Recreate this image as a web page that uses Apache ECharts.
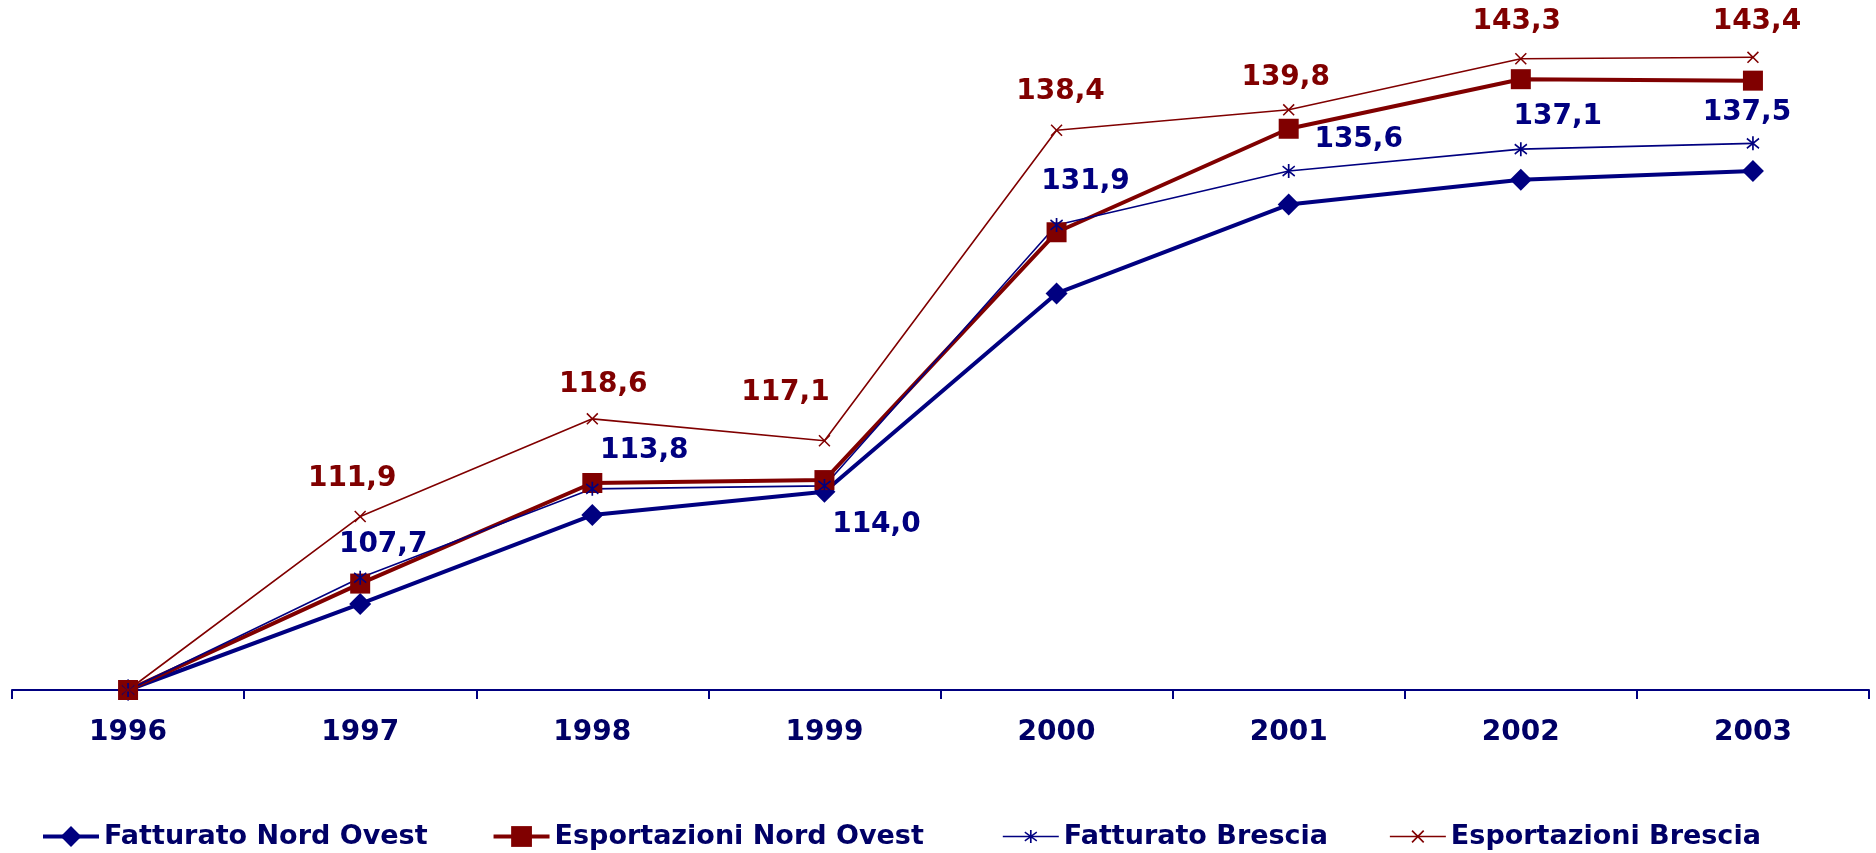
<!DOCTYPE html>
<html>
<head>
<meta charset="utf-8">
<script src="https://cdn.jsdelivr.net/npm/echarts@6/dist/echarts.min.js"></script>
<style>
html,body{margin:0;padding:0;background:#fff;}
#chart{width:1876px;height:853px;}
</style>
</head>
<body>
<div id="chart"></div>
<script>
const categories = ['1996','1997','1998','1999','2000','2001','2002','2003'];
const fatturatoNordOvest = [100, 105.9, 112.0, 113.6, 127.2, 133.3, 135.0, 135.6];
const esportazioniNordOvest = [100, 107.3, 114.2, 114.4, 131.4, 138.5, 141.9, 141.8];
const fatturatoBrescia = [100, 107.7, 113.8, 114.0, 131.9, 135.6, 137.1, 137.5];
const esportazioniBrescia = [100, 111.9, 118.6, 117.1, 138.4, 139.8, 143.3, 143.4];

// label placement (offset from point, px)
const labelOffsetsFatB = [null, [23,-33], [52,-38], [52,39], [29,-43], [70,-31], [37,-32], [-6,-31]];
const labelOffsetsEspB = [null, [-8,-38], [11,-34], [-39,-48], [4,-38], [-3,-32], [-4,-37], [4,-36]];

const NAVY = '#000080';
const RED = '#800000';
const TEXT = '#000066';
const FONT = 'DejaVu Sans';

const xSymbol = 'path://M0 9 L9 0 L100 91 L91 100 Z M91 0 L100 9 L9 100 L0 91 Z';
const starSymbol = 'path://M44 0 L56 0 L56 100 L44 100 Z M4 20 L10 10 L96 80 L90 90 Z M90 10 L96 20 L10 90 L4 80 Z';

function fmt(v){ return v.toFixed(1).replace('.', ','); }

function labelled(values, offsets, color){
  return values.map((v,i) => {
    if (!offsets[i]) return {value: v, label: {show: false}};
    return {value: v, label: {show: true, position: 'inside', offset: offsets[i],
      formatter: () => fmt(v), color: color, fontFamily: FONT, fontWeight: 'bold', fontSize: 28}};
  });
}

const legendText = {color: TEXT, fontFamily: FONT, fontWeight: 'bold', fontSize: 27};

const chart = echarts.init(document.getElementById('chart'), null, {renderer: 'canvas'});
chart.setOption({
  animation: false,
  backgroundColor: '#fff',
  grid: {left: 12, right: 7, top: 34, bottom: 163, containLabel: false, outerBoundsMode: 'none'},
  legend: [
    {
      top: 818, left: 36, itemWidth: 56, itemHeight: 26, itemGap: 64,
      textStyle: legendText,
      data: [
        {name: 'Fatturato Nord Ovest', lineStyle: {width: 4}},
        {name: 'Esportazioni Nord Ovest', lineStyle: {width: 4}}
      ]
    },
    {
      top: 818, left: 997, itemWidth: 56, itemHeight: 16, itemGap: 61,
      textStyle: legendText,
      data: [
        {name: 'Fatturato Brescia', lineStyle: {width: 1.6}},
        {name: 'Esportazioni Brescia', lineStyle: {width: 1.6}}
      ]
    }
  ],
  xAxis: {
    type: 'category',
    data: categories,
    boundaryGap: true,
    axisLine: {show: true, lineStyle: {color: NAVY, width: 2}},
    axisTick: {show: true, length: 9, lineStyle: {color: NAVY, width: 2}},
    axisLabel: {color: TEXT, fontFamily: FONT, fontWeight: 'bold', fontSize: 28, margin: 29},
    splitLine: {show: false}
  },
  yAxis: {
    type: 'value', min: 100, max: 145, show: false,
    splitLine: {show: false}
  },
  series: [
    {name: 'Fatturato Nord Ovest', type: 'line', data: fatturatoNordOvest,
     symbol: 'diamond', symbolSize: 22, showAllSymbol: true,
     lineStyle: {color: NAVY, width: 4}, itemStyle: {color: NAVY}},
    {name: 'Esportazioni Nord Ovest', type: 'line', data: esportazioniNordOvest,
     symbol: 'rect', symbolSize: 20, showAllSymbol: true,
     lineStyle: {color: RED, width: 4}, itemStyle: {color: RED}},
    {name: 'Fatturato Brescia', type: 'line', data: labelled(fatturatoBrescia, labelOffsetsFatB, NAVY),
     symbol: starSymbol, symbolSize: [13, 14], showAllSymbol: true,
     lineStyle: {color: NAVY, width: 1.6}, itemStyle: {color: NAVY}},
    {name: 'Esportazioni Brescia', type: 'line', data: labelled(esportazioniBrescia, labelOffsetsEspB, RED),
     symbol: xSymbol, symbolSize: 12, showAllSymbol: true,
     lineStyle: {color: RED, width: 1.6}, itemStyle: {color: RED}}
  ]
});
</script>
</body>
</html>
